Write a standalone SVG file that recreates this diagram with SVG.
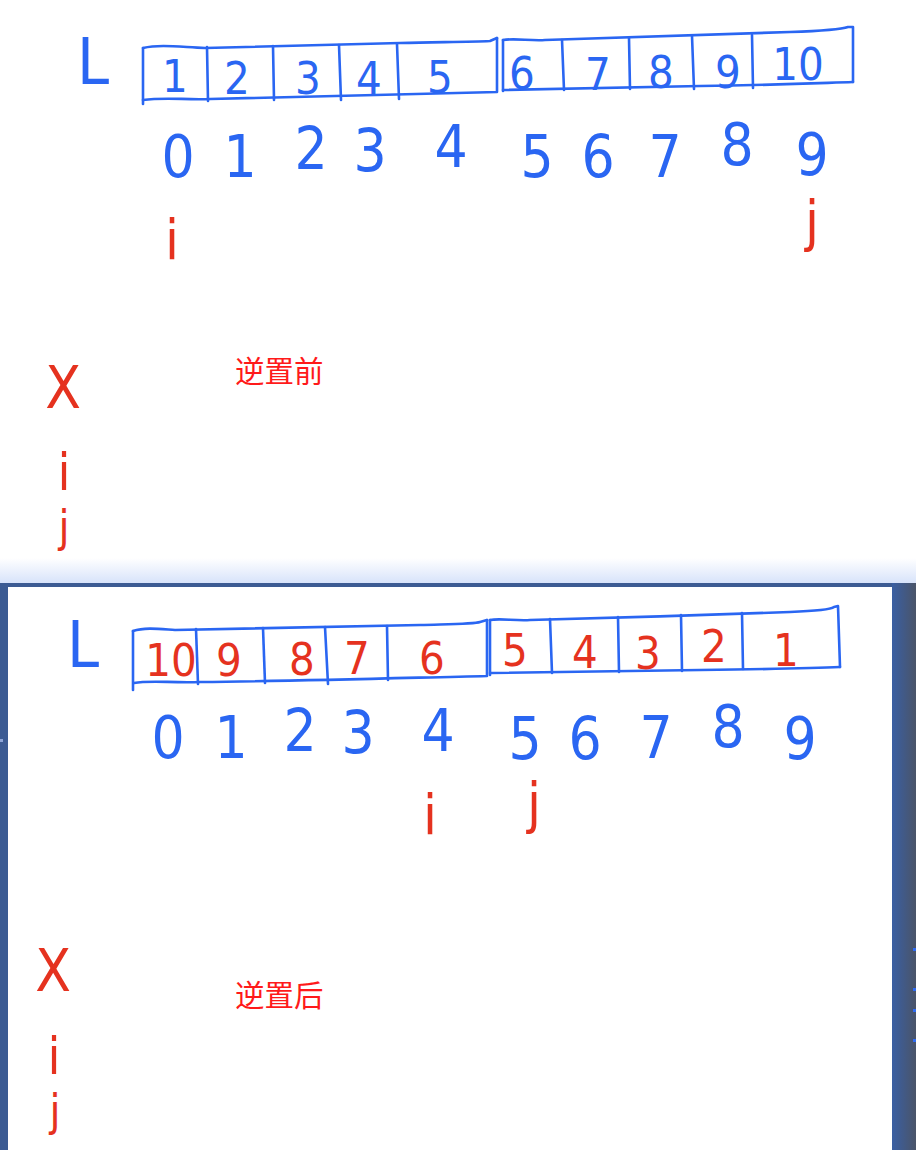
<svg xmlns="http://www.w3.org/2000/svg" width="916" height="1150" viewBox="0 0 916 1150">
<defs>
<linearGradient id="glow" x1="0" y1="0" x2="0" y2="1">
<stop offset="0" stop-color="#ffffff"/>
<stop offset="1" stop-color="#d6e2fa"/>
</linearGradient>
<linearGradient id="rightStrip" x1="0" y1="0" x2="1" y2="0">
<stop offset="0" stop-color="#3a5fa3"/>
<stop offset="1" stop-color="#4a5468"/>
</linearGradient>
<style>
.ink{fill:none;stroke:#2a66f2;stroke-width:2.6;stroke-linecap:round;stroke-linejoin:round}
.hw{font-family:"Liberation Sans Narrow","DejaVu Sans Condensed","Liberation Sans",sans-serif;text-anchor:middle}
.bv{font-size:45px;fill:#2a66f2}
.rv{font-size:45px;fill:#e5321f}
.idx{font-size:58px;fill:#2a66f2}
.L{font-size:64px;fill:#2a66f2}
.ptr{fill:#e5321f}
.cn{font-family:"Liberation Sans","Noto Sans CJK SC",sans-serif;font-size:29.5px;fill:#ff1a1a}
</style>
</defs>

<!-- backgrounds -->
<rect x="0" y="0" width="916" height="1150" fill="#ffffff"/>
<rect x="0" y="558" width="916" height="26" fill="url(#glow)"/>
<rect x="0" y="583" width="916" height="567" fill="#3c5b93"/>
<rect x="892" y="583" width="24" height="567" fill="url(#rightStrip)"/>
<rect x="8" y="587" width="884" height="563" fill="#ffffff"/>
<rect x="0" y="739" width="3" height="3" fill="#8fa6d8"/>
<rect x="913" y="948" width="3" height="3" fill="#2f6bf2"/>
<rect x="913" y="988" width="3" height="3" fill="#2f6bf2"/>
<rect x="913" y="1009" width="3" height="3" fill="#2f6bf2"/>
<rect x="913" y="1039" width="3" height="3" fill="#2f6bf2"/>

<!-- ============ BEFORE ============ -->
<g id="before">
<g id="before-label-L"><text class="hw L" x="93" y="84">L</text></g>
<g id="before-array-frame">
<path class="ink" d="M143,48 C160,44 180,47 205,48 C260,46 330,45 400,43 C440,42 470,42 490,41 L497,38"/>
<path class="ink" d="M143,104 L143,48"/>
<path class="ink" d="M143,100 C165,97 185,100 210,99 C280,98 360,96 497,92 L497,38"/>
<path class="ink" d="M503,40 C515,38 530,41 545,40 C620,38 700,35 790,32 C820,31 840,30 848,27 L853,27 L853,82"/>
<path class="ink" d="M503,91 L503,40"/>
<path class="ink" d="M503,90 C540,89 600,88 700,86 C780,85 820,83 853,82"/>
</g>
<g id="before-cell-0"><text class="hw bv" x="175" y="92">1</text></g>
<g id="before-cell-1"><path class="ink" d="M207,47 L208,101"/><text class="hw bv" x="237" y="94">2</text></g>
<g id="before-cell-2"><path class="ink" d="M273,46 L274,100"/><text class="hw bv" x="308" y="94">3</text></g>
<g id="before-cell-3"><path class="ink" d="M339,45 L341,100"/><text class="hw bv" x="369" y="94">4</text></g>
<g id="before-cell-4"><path class="ink" d="M397,44 L399,99"/><text class="hw bv" x="440" y="93">5</text></g>
<g id="before-cell-5"><text class="hw bv" x="522" y="89">6</text></g>
<g id="before-cell-6"><path class="ink" d="M562,40 L564,90"/><text class="hw bv" x="598" y="90">7</text></g>
<g id="before-cell-7"><path class="ink" d="M629,38 L630,89"/><text class="hw bv" x="661" y="88">8</text></g>
<g id="before-cell-8"><path class="ink" d="M692,36 L694,89"/><text class="hw bv" x="728" y="88">9</text></g>
<g id="before-cell-9"><path class="ink" d="M752,35 L753,88"/><text class="hw bv" x="798" y="80">10</text></g>

<g id="before-indices">
<text class="hw idx" x="178" y="177">0</text>
<text class="hw idx" x="240" y="177">1</text>
<text class="hw idx" x="311" y="169">2</text>
<text class="hw idx" x="370" y="171">3</text>
<text class="hw idx" x="451" y="167">4</text>
<text class="hw idx" x="537" y="177">5</text>
<text class="hw idx" x="598" y="177">6</text>
<text class="hw idx" x="665" y="177">7</text>
<text class="hw idx" x="737" y="165">8</text>
<text class="hw idx" x="812" y="175">9</text>
</g>
<g id="before-i"><text class="hw ptr" x="172" y="259" font-size="56">i</text></g>
<g id="before-j"><text class="hw ptr" x="812" y="240" font-size="56">j</text></g>

<g id="before-legend">
<text class="hw ptr" x="63" y="408" font-size="58">X</text>
<text class="hw ptr" x="64" y="490" font-size="52">i</text>
<text class="hw ptr" x="64" y="542" font-size="44">j</text>
</g>
<g id="before-title"><text class="cn" x="235" y="382">逆置前</text></g>
</g>

<!-- ============ AFTER ============ -->
<g id="after">
<g id="after-label-L"><text class="hw L" x="83" y="667">L</text></g>
<g id="after-array-frame">
<path class="ink" d="M133,631 C145,627 160,629 175,630 C250,629 330,627 420,625 C455,624 475,624 480,622 L487,620"/>
<path class="ink" d="M133,690 L133,631"/>
<path class="ink" d="M134,683 C150,680 170,683 200,682 C300,681 400,678 487,676 L487,620"/>
<path class="ink" d="M490,620 C500,618 515,621 530,620 C620,618 700,615 790,612 C815,611 830,610 834,607 L838,606 L840,667"/>
<path class="ink" d="M490,675 L490,620"/>
<path class="ink" d="M490,673 C530,673 600,672 700,670 C780,669 820,668 840,667"/>
</g>
<g id="after-cell-0"><text class="hw rv" x="171" y="676">10</text></g>
<g id="after-cell-1"><path class="ink" d="M196,629 L198,684"/><text class="hw rv" x="229" y="676">9</text></g>
<g id="after-cell-2"><path class="ink" d="M263,628 L265,683"/><text class="hw rv" x="302" y="675">8</text></g>
<g id="after-cell-3"><path class="ink" d="M325,627 L328,684"/><text class="hw rv" x="357" y="674">7</text></g>
<g id="after-cell-4"><path class="ink" d="M387,626 L388,680"/><text class="hw rv" x="432" y="674">6</text></g>
<g id="after-cell-5"><text class="hw rv" x="515" y="666">5</text></g>
<g id="after-cell-6"><path class="ink" d="M550,619 L552,673"/><text class="hw rv" x="585" y="668">4</text></g>
<g id="after-cell-7"><path class="ink" d="M618,617 L619,672"/><text class="hw rv" x="648" y="669">3</text></g>
<g id="after-cell-8"><path class="ink" d="M681,615 L682,671"/><text class="hw rv" x="714" y="662">2</text></g>
<g id="after-cell-9"><path class="ink" d="M742,613 L743,669"/><text class="hw rv" x="786" y="666">1</text></g>

<g id="after-indices">
<text class="hw idx" x="168" y="758">0</text>
<text class="hw idx" x="231" y="758">1</text>
<text class="hw idx" x="300" y="751">2</text>
<text class="hw idx" x="358" y="753">3</text>
<text class="hw idx" x="438" y="751">4</text>
<text class="hw idx" x="525" y="759">5</text>
<text class="hw idx" x="585" y="759">6</text>
<text class="hw idx" x="656" y="758">7</text>
<text class="hw idx" x="728" y="747">8</text>
<text class="hw idx" x="800" y="759">9</text>
</g>
<g id="after-i"><text class="hw ptr" x="430" y="834" font-size="56">i</text></g>
<g id="after-j"><text class="hw ptr" x="534" y="822" font-size="56">j</text></g>

<g id="after-legend">
<text class="hw ptr" x="53" y="991" font-size="58">X</text>
<text class="hw ptr" x="54" y="1074" font-size="52">i</text>
<text class="hw ptr" x="55" y="1126" font-size="44">j</text>
</g>
<g id="after-title"><text class="cn" x="235" y="1006">逆置后</text></g>
</g>
</svg>
